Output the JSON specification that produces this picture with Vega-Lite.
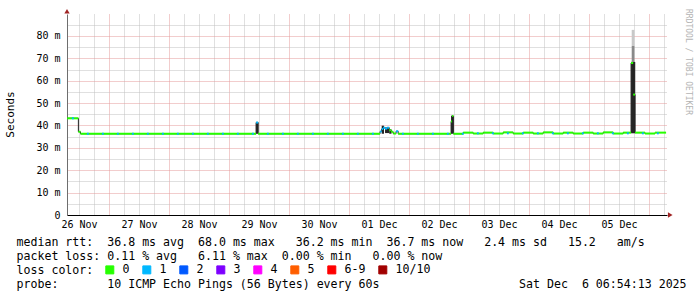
{
  "$schema": "https://vega.github.io/schema/vega-lite/v6.json",
  "autosize": {"type": "none"},
  "padding": {"left": 67, "top": 14, "right": 30, "bottom": 82},
  "width": 600,
  "height": 201,
  "background": "#ffffff",
  "config": {"view": {"stroke": null}, "font": "DejaVu Sans Mono"},
  "title": {
    "text": "RRDTOOL / TOBI OETIKER",
    "orient": "right",
    "anchor": "start",
    "font": "DejaVu Sans Mono",
    "fontSize": 8,
    "fontWeight": "normal",
    "color": "#b4b4b4",
    "offset": -2
  },
  "datasets": {
    "median": [
      {"t": "2025-11-26T07:15Z", "t2": "2025-11-26T11:45Z", "med": 43.2, "loss": "0"},
      {"t": "2025-11-26T11:45Z", "t2": "2025-11-26T12:35Z", "med": 37.2, "loss": "0"},
      {"t": "2025-11-26T12:35Z", "t2": "2025-11-29T10:50Z", "med": 36.3, "loss": "0"},
      {"t": "2025-11-29T10:50Z", "t2": "2025-11-29T11:40Z", "med": 41.3, "loss": "1"},
      {"t": "2025-11-29T11:40Z", "t2": "2025-12-01T12:25Z", "med": 36.3, "loss": "0"},
      {"t": "2025-12-01T12:25Z", "t2": "2025-12-01T13:05Z", "med": 37.3, "loss": "1"},
      {"t": "2025-12-01T13:05Z", "t2": "2025-12-01T13:40Z", "med": 38.4, "loss": "1"},
      {"t": "2025-12-01T13:40Z", "t2": "2025-12-01T14:25Z", "med": 39.0, "loss": "1"},
      {"t": "2025-12-01T14:25Z", "t2": "2025-12-01T15:15Z", "med": 38.6, "loss": "1"},
      {"t": "2025-12-01T15:15Z", "t2": "2025-12-01T16:05Z", "med": 39.0, "loss": "1"},
      {"t": "2025-12-01T16:05Z", "t2": "2025-12-01T16:50Z", "med": 37.9, "loss": "0"},
      {"t": "2025-12-01T16:50Z", "t2": "2025-12-01T17:40Z", "med": 37.2, "loss": "0"},
      {"t": "2025-12-01T17:40Z", "t2": "2025-12-01T18:50Z", "med": 36.4, "loss": "0"},
      {"t": "2025-12-01T18:50Z", "t2": "2025-12-01T19:40Z", "med": 37.4, "loss": "1"},
      {"t": "2025-12-01T19:40Z", "t2": "2025-12-02T16:50Z", "med": 36.3, "loss": "0"},
      {"t": "2025-12-02T16:50Z", "t2": "2025-12-02T17:15Z", "med": 41.8, "loss": "0"},
      {"t": "2025-12-02T17:15Z", "t2": "2025-12-02T17:45Z", "med": 44.2, "loss": "0"},
      {"t": "2025-12-02T17:45Z", "t2": "2025-12-02T21:40Z", "med": 36.3, "loss": "0"},
      {"t": "2025-12-02T21:40Z", "t2": "2025-12-03T01:40Z", "med": 36.8, "loss": "0"},
      {"t": "2025-12-03T01:40Z", "t2": "2025-12-03T05:40Z", "med": 36.4, "loss": "0"},
      {"t": "2025-12-03T05:40Z", "t2": "2025-12-03T09:40Z", "med": 36.8, "loss": "0"},
      {"t": "2025-12-03T09:40Z", "t2": "2025-12-03T13:40Z", "med": 36.4, "loss": "0"},
      {"t": "2025-12-03T13:40Z", "t2": "2025-12-03T17:40Z", "med": 36.9, "loss": "0"},
      {"t": "2025-12-03T17:40Z", "t2": "2025-12-03T21:40Z", "med": 36.4, "loss": "0"},
      {"t": "2025-12-03T21:40Z", "t2": "2025-12-04T01:40Z", "med": 36.8, "loss": "0"},
      {"t": "2025-12-04T01:40Z", "t2": "2025-12-04T05:40Z", "med": 36.4, "loss": "0"},
      {"t": "2025-12-04T05:40Z", "t2": "2025-12-04T09:40Z", "med": 36.9, "loss": "0"},
      {"t": "2025-12-04T09:40Z", "t2": "2025-12-04T13:40Z", "med": 36.4, "loss": "0"},
      {"t": "2025-12-04T13:40Z", "t2": "2025-12-04T17:40Z", "med": 36.8, "loss": "0"},
      {"t": "2025-12-04T17:40Z", "t2": "2025-12-04T21:40Z", "med": 36.4, "loss": "0"},
      {"t": "2025-12-04T21:40Z", "t2": "2025-12-05T01:40Z", "med": 36.8, "loss": "0"},
      {"t": "2025-12-05T01:40Z", "t2": "2025-12-05T05:40Z", "med": 36.4, "loss": "0"},
      {"t": "2025-12-05T05:40Z", "t2": "2025-12-05T09:40Z", "med": 36.9, "loss": "0"},
      {"t": "2025-12-05T09:40Z", "t2": "2025-12-05T13:40Z", "med": 36.4, "loss": "0"},
      {"t": "2025-12-05T13:40Z", "t2": "2025-12-05T16:50Z", "med": 36.8, "loss": "0"},
      {"t": "2025-12-05T16:50Z", "t2": "2025-12-05T17:40Z", "med": 67.9, "loss": "0"},
      {"t": "2025-12-05T17:40Z", "t2": "2025-12-05T18:25Z", "med": 53.8, "loss": "0"},
      {"t": "2025-12-05T18:25Z", "t2": "2025-12-05T22:25Z", "med": 36.8, "loss": "0"},
      {"t": "2025-12-05T22:25Z", "t2": "2025-12-06T02:25Z", "med": 36.4, "loss": "0"},
      {"t": "2025-12-06T02:25Z", "t2": "2025-12-06T06:50Z", "med": 36.8, "loss": "0"}
    ],
    "lossEvents": [
      {"t": "2025-11-26T09:10Z", "t2": "2025-11-26T09:55Z", "med": 43.2, "loss": "1"},
      {"t": "2025-11-26T15:10Z", "t2": "2025-11-26T15:55Z", "med": 36.3, "loss": "1"},
      {"t": "2025-11-26T21:10Z", "t2": "2025-11-26T21:55Z", "med": 36.3, "loss": "1"},
      {"t": "2025-11-27T03:10Z", "t2": "2025-11-27T03:55Z", "med": 36.3, "loss": "1"},
      {"t": "2025-11-27T09:10Z", "t2": "2025-11-27T09:55Z", "med": 36.3, "loss": "1"},
      {"t": "2025-11-27T15:10Z", "t2": "2025-11-27T15:55Z", "med": 36.3, "loss": "1"},
      {"t": "2025-11-27T21:10Z", "t2": "2025-11-27T21:55Z", "med": 36.3, "loss": "1"},
      {"t": "2025-11-28T03:10Z", "t2": "2025-11-28T03:55Z", "med": 36.3, "loss": "1"},
      {"t": "2025-11-28T09:10Z", "t2": "2025-11-28T09:55Z", "med": 36.3, "loss": "1"},
      {"t": "2025-11-28T15:10Z", "t2": "2025-11-28T15:55Z", "med": 36.3, "loss": "1"},
      {"t": "2025-11-28T21:10Z", "t2": "2025-11-28T21:55Z", "med": 36.3, "loss": "1"},
      {"t": "2025-11-29T03:10Z", "t2": "2025-11-29T03:55Z", "med": 36.3, "loss": "1"},
      {"t": "2025-11-29T09:10Z", "t2": "2025-11-29T09:55Z", "med": 36.3, "loss": "1"},
      {"t": "2025-11-29T15:10Z", "t2": "2025-11-29T15:55Z", "med": 36.3, "loss": "1"},
      {"t": "2025-11-29T21:10Z", "t2": "2025-11-29T21:55Z", "med": 36.3, "loss": "1"},
      {"t": "2025-11-30T03:10Z", "t2": "2025-11-30T03:55Z", "med": 36.3, "loss": "1"},
      {"t": "2025-11-30T09:10Z", "t2": "2025-11-30T09:55Z", "med": 36.3, "loss": "1"},
      {"t": "2025-11-30T15:10Z", "t2": "2025-11-30T15:55Z", "med": 36.3, "loss": "1"},
      {"t": "2025-11-30T21:10Z", "t2": "2025-11-30T21:55Z", "med": 36.3, "loss": "1"},
      {"t": "2025-12-01T03:10Z", "t2": "2025-12-01T03:55Z", "med": 36.3, "loss": "1"},
      {"t": "2025-12-01T09:10Z", "t2": "2025-12-01T09:55Z", "med": 36.3, "loss": "1"},
      {"t": "2025-12-01T21:10Z", "t2": "2025-12-01T21:55Z", "med": 36.3, "loss": "1"},
      {"t": "2025-12-02T03:10Z", "t2": "2025-12-02T03:55Z", "med": 36.3, "loss": "1"},
      {"t": "2025-12-02T09:10Z", "t2": "2025-12-02T09:55Z", "med": 36.3, "loss": "1"},
      {"t": "2025-12-02T15:10Z", "t2": "2025-12-02T15:55Z", "med": 36.3, "loss": "1"},
      {"t": "2025-12-02T21:10Z", "t2": "2025-12-02T21:55Z", "med": 36.3, "loss": "1"},
      {"t": "2025-12-03T03:10Z", "t2": "2025-12-03T03:55Z", "med": 36.5, "loss": "1"},
      {"t": "2025-12-03T09:10Z", "t2": "2025-12-03T09:55Z", "med": 36.5, "loss": "1"},
      {"t": "2025-12-03T15:10Z", "t2": "2025-12-03T15:55Z", "med": 36.5, "loss": "1"},
      {"t": "2025-12-03T21:10Z", "t2": "2025-12-03T21:55Z", "med": 36.5, "loss": "1"},
      {"t": "2025-12-04T03:10Z", "t2": "2025-12-04T03:55Z", "med": 36.5, "loss": "1"},
      {"t": "2025-12-04T09:10Z", "t2": "2025-12-04T09:55Z", "med": 36.5, "loss": "1"},
      {"t": "2025-12-04T15:10Z", "t2": "2025-12-04T15:55Z", "med": 36.5, "loss": "1"},
      {"t": "2025-12-04T21:10Z", "t2": "2025-12-04T21:55Z", "med": 36.5, "loss": "1"},
      {"t": "2025-12-05T03:10Z", "t2": "2025-12-05T03:55Z", "med": 36.5, "loss": "1"},
      {"t": "2025-12-05T09:10Z", "t2": "2025-12-05T09:55Z", "med": 36.5, "loss": "1"},
      {"t": "2025-12-05T15:10Z", "t2": "2025-12-05T15:55Z", "med": 36.5, "loss": "1"},
      {"t": "2025-12-05T21:10Z", "t2": "2025-12-05T21:55Z", "med": 36.5, "loss": "1"},
      {"t": "2025-12-06T03:10Z", "t2": "2025-12-06T03:55Z", "med": 36.5, "loss": "1"}
    ],
    "smoke": [
      {"t": "2025-11-29T10:50Z", "t2": "2025-11-29T11:40Z", "lo": 36.3, "hi": 41.6, "band": "core"},
      {"t": "2025-12-01T13:05Z", "t2": "2025-12-01T14:00Z", "lo": 36.3, "hi": 39.9, "band": "core"},
      {"t": "2025-12-01T14:25Z", "t2": "2025-12-01T16:05Z", "lo": 36.6, "hi": 39.1, "band": "core"},
      {"t": "2025-12-01T16:05Z", "t2": "2025-12-01T17:00Z", "lo": 36.3, "hi": 38.3, "band": "core"},
      {"t": "2025-12-02T16:50Z", "t2": "2025-12-02T17:45Z", "lo": 36.3, "hi": 44.4, "band": "core"},
      {"t": "2025-12-05T16:50Z", "t2": "2025-12-05T18:30Z", "lo": 36.5, "hi": 68.4, "band": "core"},
      {"t": "2025-12-05T17:05Z", "t2": "2025-12-05T18:10Z", "lo": 68.4, "hi": 75.5, "band": "mid"},
      {"t": "2025-12-05T17:05Z", "t2": "2025-12-05T18:10Z", "lo": 75.5, "hi": 82.7, "band": "light"}
    ],
    "arrows": [
      {"t": "2025-12-06T08:30Z", "v": 0, "axis": "x"},
      {"t": "2025-11-26T07:12Z", "v": 91, "axis": "y"}
    ]
  },
  "layer": [
    {
      "data": {"name": "smoke"},
      "transform": [{"filter": "datum.band === 'light'"}],
      "mark": {"type": "rect", "color": "#c8c8c8"},
      "encoding": {
        "x": {
          "field": "t", "type": "temporal",
          "scale": {"type": "utc", "domain": [
            {"year": 2025, "month": 11, "date": 26, "hours": 7, "minutes": 12, "utc": true},
            {"year": 2025, "month": 12, "date": 6, "hours": 7, "minutes": 12, "utc": true}
          ]},
          "axis": {
            "tickCount": 40,
            "grid": true,
            "gridColor": {"condition": {"test": "utchours(datum.value) === 0", "value": "#e49a9a"}, "value": "#c0c0c0"},
            "gridDash": [1, 1],
            "gridWidth": 1,
            "ticks": false,
            "labelExpr": "utchours(datum.value) === 12 ? utcFormat(datum.value, '%d %b') : ''",
            "labelFont": "DejaVu Sans Mono",
            "labelFontSize": 10,
            "labelColor": "#000000",
            "labelPadding": 4,
            "labelAngle": 0,
            "labelOverlap": false,
            "labelFlush": false,
            "domainColor": "#000000",
            "domainWidth": 1,
            "title": [
              "median rtt: \u00a036.8 ms avg \u00a068.0 ms max \u00a0\u00a036.2 ms min \u00a036.7 ms now \u00a0\u00a02.4 ms sd \u00a0\u00a015.2 \u00a0\u00a0am/s",
              "packet loss: 0.11 % avg \u00a0\u00a06.11 % max \u00a00.00 % min \u00a0\u00a00.00 % now",
              "loss color:",
              "probe: \u00a0\u00a0\u00a0\u00a0\u00a0\u00a010 ICMP Echo Pings (56 Bytes) every 60s \u00a0\u00a0\u00a0\u00a0\u00a0\u00a0\u00a0\u00a0\u00a0\u00a0\u00a0\u00a0\u00a0\u00a0\u00a0\u00a0\u00a0\u00a0\u00a0Sat Dec \u00a06 06:54:13 2025"
            ],
            "titleX": -51,
            "titleY": 30,
            "titleAlign": "left",
            "titleAnchor": "start",
            "titleBaseline": "alphabetic",
            "titleFont": "DejaVu Sans Mono",
            "titleFontSize": 11.6,
            "titleFontWeight": "normal",
            "titleColor": "#000000",
            "titleLineHeight": 14.3
          }
        },
        "x2": {"field": "t2"},
        "y": {
          "field": "lo", "type": "quantitative",
          "scale": {"domain": [0, 89.8], "nice": false, "zero": true},
          "axis": {
            "values": [0, 5, 10, 15, 20, 25, 30, 35, 40, 45, 50, 55, 60, 65, 70, 75, 80, 85],
            "tickCount": 18,
            "grid": true,
            "gridColor": {"condition": {"test": "datum.value % 10 === 0", "value": "#e49a9a"}, "value": "#c0c0c0"},
            "gridDash": [1, 1],
            "gridWidth": 1,
            "ticks": false,
            "labelPadding": 7,
            "labelExpr": "datum.value % 10 !== 0 ? '' : (datum.value === 0 ? '0' : datum.value + ' m')",
            "labelFont": "DejaVu Sans Mono",
            "labelFontSize": 10,
            "labelColor": "#000000",
            "labelOverlap": false,
            "domainColor": "#6e6e6e",
            "title": "Seconds",
            "titleFont": "DejaVu Sans Mono",
            "titleFontSize": 11,
            "titleFontWeight": "normal",
            "titleColor": "#000000",
            "titleAngle": -90,
            "titleX": -57,
            "titleY": 100,
            "titleAlign": "center",
            "titleBaseline": "middle"
          }
        },
        "y2": {"field": "hi"}
      }
    },
    {
      "data": {"name": "smoke"},
      "transform": [{"filter": "datum.band === 'mid'"}],
      "mark": {"type": "rect", "color": "#8a8a8a"},
      "encoding": {
        "x": {"field": "t", "type": "temporal"},
        "x2": {"field": "t2"},
        "y": {"field": "lo", "type": "quantitative"},
        "y2": {"field": "hi"}
      }
    },
    {
      "data": {"name": "smoke"},
      "transform": [{"filter": "datum.band === 'core'"}],
      "mark": {"type": "rect", "color": "#262626"},
      "encoding": {
        "x": {"field": "t", "type": "temporal"},
        "x2": {"field": "t2"},
        "y": {"field": "lo", "type": "quantitative"},
        "y2": {"field": "hi"}
      }
    },
    {
      "data": {"name": "median"},
      "mark": {"type": "line", "interpolate": "step-after", "color": "#202020", "strokeWidth": 1},
      "encoding": {
        "x": {"field": "t", "type": "temporal"},
        "y": {"field": "med", "type": "quantitative"}
      }
    },
    {
      "data": {"name": "median"},
      "mark": {"type": "rule", "strokeWidth": 2, "strokeCap": "butt"},
      "encoding": {
        "x": {"field": "t", "type": "temporal"},
        "x2": {"field": "t2"},
        "y": {"field": "med", "type": "quantitative"},
        "color": {
          "field": "loss", "type": "nominal",
          "scale": {
            "domain": ["0", "1", "2", "3", "4", "5", "6-9", "10/10"],
            "range": ["#26ff00", "#00b8ff", "#0059ff", "#7e00ff", "#ff00ff", "#ff5e00", "#ff0000", "#a10000"]
          },
          "legend": {
            "orient": "none",
            "legendX": 37,
            "legendY": 250,
            "direction": "horizontal",
            "columns": 8,
            "padding": 0,
            "title": null,
            "symbolType": "square",
            "symbolSize": 64,
            "symbolStrokeColor": "#000000",
            "symbolStrokeWidth": 1,
            "symbolOpacity": 1,
            "labelFont": "DejaVu Sans Mono",
            "labelFontSize": 11.6,
            "labelColor": "#000000",
            "labelOffset": 7,
            "columnPadding": 10,
            "encode": {
              "symbols": {
                "update": {
                  "fill": {"scale": "color", "field": "value"},
                  "stroke": {"value": "#000000"},
                  "strokeWidth": {"value": 1},
                  "opacity": {"value": 1},
                  "fillOpacity": {"value": 1}
                }
              }
            }
          }
        }
      }
    },
    {
      "data": {"name": "lossEvents"},
      "mark": {"type": "rule", "strokeWidth": 2, "strokeCap": "butt"},
      "encoding": {
        "x": {"field": "t", "type": "temporal"},
        "x2": {"field": "t2"},
        "y": {"field": "med", "type": "quantitative"},
        "color": {"field": "loss", "type": "nominal"}
      }
    },
    {
      "data": {"name": "arrows"},
      "transform": [{"filter": "datum.axis === 'x'"}],
      "mark": {"type": "point", "shape": "triangle-right", "filled": true, "color": "#a02424", "size": 28, "opacity": 1},
      "encoding": {
        "x": {"field": "t", "type": "temporal"},
        "y": {"field": "v", "type": "quantitative"}
      }
    },
    {
      "data": {"name": "arrows"},
      "transform": [{"filter": "datum.axis === 'y'"}],
      "mark": {"type": "point", "shape": "triangle-up", "filled": true, "color": "#a02424", "size": 28, "opacity": 1},
      "encoding": {
        "x": {"field": "t", "type": "temporal"},
        "y": {"field": "v", "type": "quantitative"}
      }
    }
  ]
}
